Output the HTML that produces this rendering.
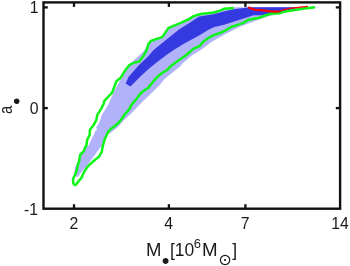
<!DOCTYPE html>
<html><head><meta charset="utf-8"><title>plot</title>
<style>
html,body{margin:0;padding:0;background:#fff;}
svg{display:block}
text{font-family:"Liberation Sans","DejaVu Sans",sans-serif;fill:#1a1a1a}
</style></head><body>
<svg width="350" height="266" viewBox="0 0 350 266">
<rect width="350" height="266" fill="#fff"/>
<polygon points="76.5,177.0 74.3,173.0 75.0,167.0 77.9,162.9 80.0,157.0 80.5,154.5 84.0,151.0 85.0,147.6 88.3,146.0 95.6,130.8 97.4,129.2 95.9,128.0 98.6,123.4 100.2,120.0 101.8,115.0 108.6,104.1 112.9,94.1 118.6,82.7 122.1,77.7 125.0,70.7 129.3,64.5 142.9,52.1 148.6,44.5 151.4,40.7 162.1,37.1 168.6,27.9 180.7,22.9 187.9,19.3 193.6,15.7 200.7,13.6 213.6,12.1 220.7,10.0 224.3,8.3 233.6,7.3 320.0,7.3 320.0,7.3 300.0,9.8 280.0,13.5 267.9,16.4 253.6,21.4 239.3,27.1 225.0,34.3 220.0,37.1 211.4,42.1 202.9,48.6 191.4,55.7 182.9,63.0 180.0,66.4 170.0,74.6 164.3,79.3 159.7,84.9 152.9,91.7 144.3,100.0 140.0,104.3 135.0,109.4 130.0,114.4 123.6,120.6 117.9,126.9 110.8,132.8 108.5,133.5 105.2,139.5 103.0,146.5 100.9,146.7 97.0,152.0 93.0,157.5 87.5,164.9 80.7,172.9 78.0,177.0" fill="#b2b2fb"/>
<polygon points="130.0,86.3 125.7,83.4 128.6,77.0 129.6,75.7 139.0,65.0 147.8,56.8 153.6,50.0 165.0,40.7 179.3,29.3 189.3,22.9 195.0,19.3 199.3,16.4 213.6,14.3 225.0,11.2 233.6,9.3 243.6,7.9 250.0,7.3 298.0,7.3 298.0,7.5 290.0,10.0 284.0,11.5 279.7,12.8 271.1,13.4 265.1,14.6 260.0,15.2 253.6,15.3 243.6,18.6 234.0,21.4 225.0,24.5 220.0,25.8 214.3,27.0 209.0,29.5 198.6,35.7 184.3,43.6 172.9,50.6 166.0,55.3 156.9,62.2 150.0,67.8 141.4,75.5 130.7,86.3" fill="#3439e0"/>
<polyline points="233.6,7.9 224.3,8.7 220.7,10.4 213.6,12.5 200.7,14.0 193.6,16.1 187.9,19.7 180.7,22.9 168.6,27.9 162.1,37.1 151.4,40.7 148.6,43.6 146.4,50.7 143.6,55.7 139.3,61.4 133.6,62.9 129.3,65.0 125.0,70.7 120.7,77.7 116.4,81.3 114.3,87.0 112.1,92.7 107.1,98.0 104.3,100.9 103.7,103.7 101.4,108.3 97.3,114.8 96.4,119.8 93.7,124.9 89.9,129.8 89.8,134.7 87.3,139.5 86.4,145.5 85.0,147.6 84.0,151.0 80.3,154.5 79.6,158.0 78.9,162.3 77.9,164.3 76.9,170.0 75.0,175.0 73.3,178.3 73.0,180.5 73.3,183.2 74.2,184.6 75.2,185.0 76.2,184.4 78.5,181.3 81.4,177.9 83.6,172.9 87.1,167.1 90.7,163.6 95.7,159.3 98.7,157.1 101.8,151.9 102.6,147.0 104.6,139.5 108.3,131.7 110.3,129.5 112.1,127.9 117.9,123.6 121.4,119.3 124.3,115.0 129.3,109.1 131.4,104.9 135.7,99.9 141.4,92.5 148.3,87.7 152.9,82.0 155.7,78.6 161.4,73.4 167.1,70.0 171.7,65.4 178.6,60.3 185.4,55.8 190.0,51.8 193.7,48.6 199.4,46.1 202.9,42.1 208.6,37.8 214.3,34.9 220.0,33.0 225.0,30.7 230.7,27.1 243.6,22.9 247.9,20.0 257.9,18.1 265.1,15.5 271.1,13.8 279.7,13.3 284.0,11.7 290.0,10.7 300.7,9.0 315.0,7.3" fill="none" stroke="#0cf516" stroke-width="2.5" stroke-linejoin="round" stroke-linecap="butt"/>
<polyline points="248.3,7.3 252.1,9.0 256.0,10.0 260.7,10.1 269.3,11.2 275.0,11.6 279.7,11.5" fill="none" stroke="#ff0000" stroke-width="2.2" stroke-linejoin="round"/>
<polyline points="279.7,11.2 282.5,10.2 290.0,8.4 300.7,7.2 307.9,6.3" fill="none" stroke="#ff0000" stroke-width="1.3" stroke-linejoin="round"/>
<!-- axes -->
<rect x="43.5" y="2.4" width="296.6" height="206.3" fill="none" stroke="#111" stroke-width="2.4"/>
<g stroke="#111" stroke-width="2.3">
<line x1="74.0" y1="204.2" x2="74.0" y2="208"/><line x1="168.9" y1="204.2" x2="168.9" y2="208"/><line x1="245.4" y1="204.2" x2="245.4" y2="208"/>
<line x1="74.0" y1="3" x2="74.0" y2="6.9"/><line x1="168.9" y1="3" x2="168.9" y2="6.9"/><line x1="245.4" y1="3" x2="245.4" y2="6.9"/>
<line x1="44" y1="7.4" x2="47.8" y2="7.4"/><line x1="44" y1="108.1" x2="47.8" y2="108.1"/>
<line x1="335.8" y1="7.4" x2="340" y2="7.4"/><line x1="335.8" y1="108.1" x2="340" y2="108.1"/>
</g>
<g font-size="15.8">
<text x="38.6" y="13.2" text-anchor="end">1</text>
<text x="38.6" y="114.1" text-anchor="end">0</text>
<text x="38" y="214.8" text-anchor="end">-1</text>
<text x="73.8" y="229.3" text-anchor="middle">2</text>
<text x="168.7" y="229.3" text-anchor="middle">4</text>
<text x="245.2" y="229.3" text-anchor="middle">7</text>
<text x="340" y="229.3" text-anchor="middle">14</text>
</g>
<g font-size="17.5">
<text transform="translate(145.9,256) scale(1.06,1)">M</text>
<text x="169.9" y="256">[10</text>
<text x="193.8" y="247.7" font-size="13">6</text>
<text transform="translate(202,256) scale(1.07,1)">M</text>
<text x="232.2" y="256">]</text>
</g>
<text x="165.5" y="268.2" font-size="22" text-anchor="middle">•</text>
<text x="224.8" y="264.6" font-size="15.9" text-anchor="middle" style="font-family:'DejaVu Sans',sans-serif">⊙</text>
<g transform="translate(12.2,114) rotate(-90) scale(0.78,1)"><text x="0" y="0" font-size="19">a</text></g>
<text x="16.8" y="107.8" font-size="21" text-anchor="middle">•</text>
</svg>
</body></html>
